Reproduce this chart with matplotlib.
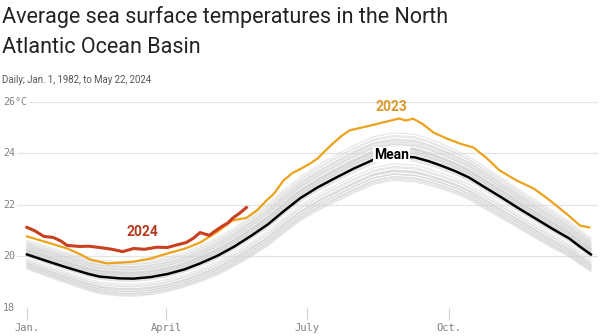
import matplotlib
matplotlib.use("Agg")
import matplotlib.pyplot as plt
import numpy as np

# Mean (day of year, deg C)
mean_days = [0, 13, 26, 40, 47, 60, 69, 80, 91, 102, 112, 123, 134, 145, 156, 166, 177,
             188, 199, 211, 224, 237, 251, 260, 268, 277, 286, 296, 307, 318, 329, 340,
             351, 358, 365]
mean_temp = [20.08, 19.82, 19.57, 19.32, 19.22, 19.15, 19.14, 19.2, 19.32, 19.5, 19.73,
             20.02, 20.38, 20.8, 21.25, 21.75, 22.27, 22.68, 23.03, 23.4, 23.75, 23.9,
             23.85, 23.7, 23.53, 23.32, 23.07, 22.7, 22.3, 21.88, 21.48, 21.08, 20.7,
             20.38, 20.08]
# width of the grey band at each mean knot
band_width = [0.6, 0.62, 0.65, 0.68, 0.7, 0.72, 0.72, 0.72, 0.72, 0.72, 0.75, 0.78, 0.8,
              0.85, 0.88, 0.9, 0.92, 0.95, 0.98, 1.0, 1.0, 1.0, 1.0, 0.98, 0.95, 0.92,
              0.9, 0.88, 0.85, 0.82, 0.8, 0.78, 0.75, 0.72, 0.7]

# 1982-2022, offset from the mean as a share of the band width
years = list(range(1982, 2023))
year_offset = [-0.85, -0.95, -0.7, -0.9, -0.8, -0.55, -0.7, -0.6, -0.45, -0.6, -0.8,
               -0.7, -0.55, -0.1, -0.4, -0.3, 0.2, 0.0, -0.15, 0.05, 0.1, 0.25, 0.15,
               0.45, 0.3, 0.15, 0.3, 0.2, 0.65, 0.35, 0.55, 0.3, 0.45, 0.35, 0.5, 0.6,
               0.3, 0.65, 0.9, 0.75, 0.8]

days_2023 = [0, 13, 26, 34, 41, 52, 60, 69, 80, 91, 102, 112, 123, 133, 142, 149, 155,
             160, 166, 172, 177, 183, 188, 193, 198, 204, 209, 216, 222, 230, 241, 245,
             250, 256, 263, 271, 280, 289, 297, 306, 317, 328, 338, 349, 358, 364]
temp_2023 = [20.78, 20.55, 20.31, 20.1, 19.88, 19.73, 19.76, 19.8, 19.92, 20.12, 20.3,
             20.54, 20.95, 21.4, 21.5, 21.8, 22.17, 22.45, 22.95, 23.25, 23.4, 23.6, 23.8,
             24.1, 24.39, 24.7, 24.9, 25.0, 25.08, 25.2, 25.36, 25.28, 25.35, 25.15,
             24.82, 24.6, 24.39, 24.23, 23.85, 23.34, 22.95, 22.64, 22.2, 21.67, 21.2,
             21.13]

days_2024 = [0, 5, 11, 17, 22, 26, 34, 40, 47, 55, 62, 69, 76, 84, 91, 97, 103, 108,
             112, 118, 122, 127, 130, 133, 138, 142]
temp_2024 = [21.13, 21.0, 20.78, 20.74, 20.6, 20.43, 20.39, 20.4, 20.35, 20.28, 20.19,
             20.31, 20.28, 20.36, 20.35, 20.45, 20.54, 20.72, 20.93, 20.82, 21.0, 21.2,
             21.3, 21.48, 21.7, 21.9]

month_days = [0, 90, 181, 273]
month_labels = ["Jan.", "April", "July", "Oct."]
y_ticks = [18, 20, 22, 24, 26]
y_labels = ["18", "20", "22", "24", "26°C"]

plt.rcParams["font.family"] = ["Roboto", "DejaVu Sans"]

fig = plt.figure(figsize=(6, 3.36), dpi=100)
ax = fig.add_axes([3 / 600, 28 / 336, 595 / 600, 206 / 336])
ax.set_xlim(-15.5, 369.6)
ax.set_ylim(18, 26)

for v in y_ticks:
    ax.axhline(v, color="#e4e4e4", lw=0.9, zorder=0)
for v, lab in zip(y_ticks, y_labels):
    ax.text(-15.5, v, lab, ha="left", va="center", fontsize=7.2, color="#808080",
            family="DejaVu Sans Mono", zorder=1,
            bbox=dict(facecolor="white", edgecolor="none", pad=1.2))

mean_arr = np.array(mean_temp)
band_arr = np.array(band_width)
for off in year_offset:
    ax.plot(mean_days, mean_arr + off * band_arr, color="#d4d4d4", lw=0.8, alpha=0.6,
            zorder=2)

ax.plot(mean_days, mean_temp, color="black", lw=1.8, zorder=4)
ax.plot(days_2023, temp_2023, color="#eea21b", lw=1.6, zorder=5)
ax.plot(days_2024, temp_2024, color="#c8401f", lw=2.2, zorder=6)

ax.text(236, 23.95, "Mean", ha="center", va="center", fontsize=10, fontweight="bold",
        color="black", zorder=7,
        bbox=dict(facecolor="white", edgecolor="none", pad=0.8))
ax.text(236, 25.8, "2023", ha="center", va="center", fontsize=10, fontweight="bold",
        color="#d99a2b", zorder=7)
ax.text(75, 20.95, "2024", ha="center", va="center", fontsize=10, fontweight="bold",
        color="#b33a1f", zorder=7)

ax.set_xticks(month_days)
ax.set_xticklabels(month_labels, family="DejaVu Sans Mono", fontsize=7.5, color="#808080")
ax.tick_params(axis="x", length=8.5, width=0.8, color="#d0d0d0", pad=2)
ax.set_yticks([])
for s in ax.spines.values():
    s.set_visible(False)

fig.text(2 / 600, 1 - 6 / 336, "Average sea surface temperatures in the North\nAtlantic Ocean Basin",
         ha="left", va="top", fontsize=15.5, color="#222222", linespacing=1.55)
fig.text(2 / 600, 1 - 80 / 336, "Daily; Jan. 1, 1982, to May 22, 2024", ha="left",
         va="center", fontsize=6.9, color="#555555")

fig.savefig("out.png", dpi=100)
